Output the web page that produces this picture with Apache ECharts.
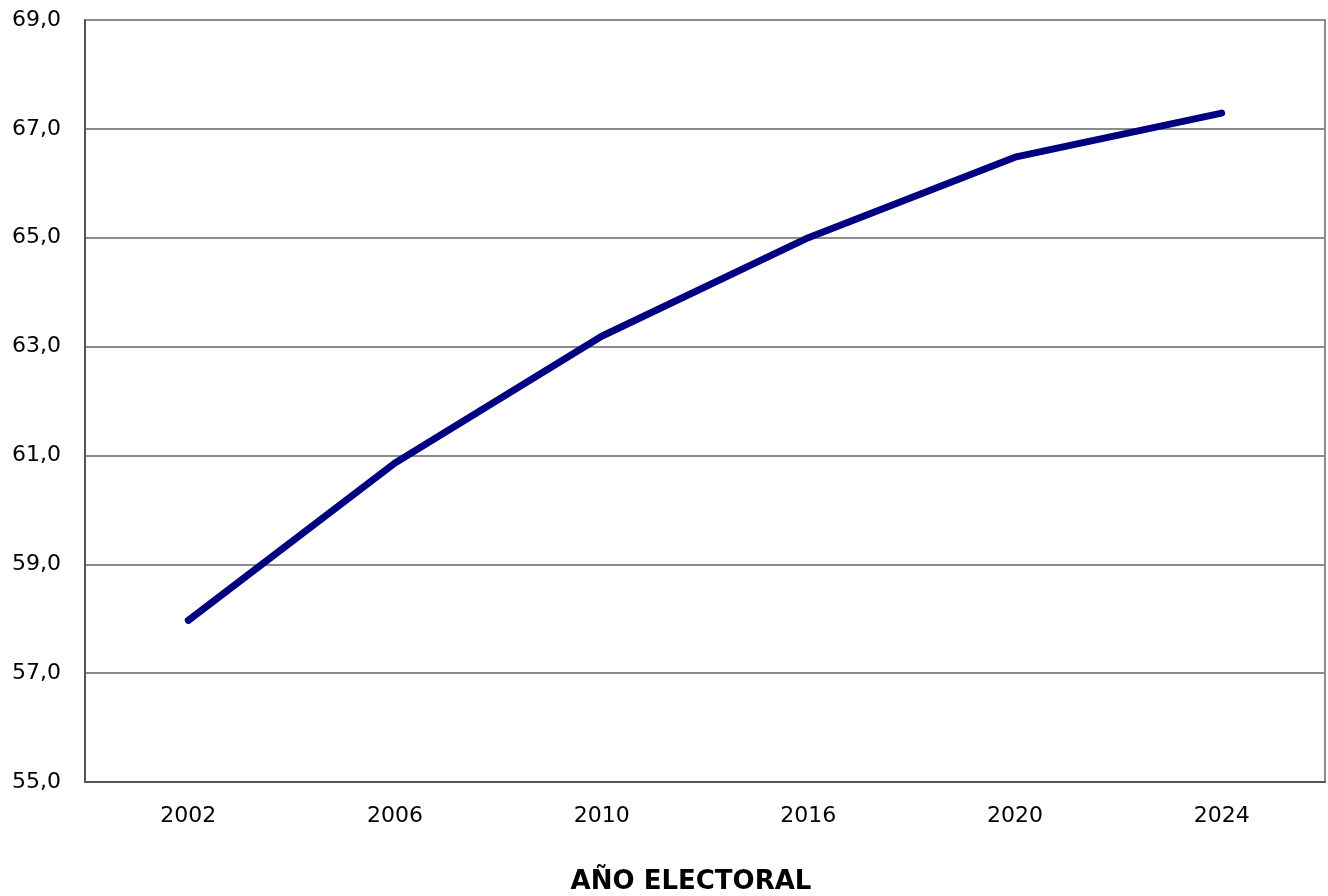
<!DOCTYPE html>
<html><head><meta charset="utf-8">
<script src="https://cdn.jsdelivr.net/npm/echarts@6/dist/echarts.min.js"></script>
<style>html,body{margin:0;padding:0;background:#fff}#c{width:1328px;height:896px}</style>
</head><body><div id="c"></div>
<script>
const years = ['2002','2006','2010','2016','2020','2024'];
const values = [57.97, 60.86, 63.19, 65.0, 66.48, 67.29];
const yMin = 55, yMax = 69, yStep = 2;
const xTitle = 'AÑO ELECTORAL';

const font = 'DejaVu Sans';
const chart = echarts.init(document.getElementById('c'));
chart.setOption({
  animation: false,
  backgroundColor: '#fff',
  grid: { left: 85, right: 3, top: 20, bottom: 114, show: true, borderColor: '#8c8c8c', borderWidth: 2, backgroundColor: 'transparent' },
  title: { text: xTitle, left: 686, top: 864, textAlign: 'center',
    textStyle: { fontFamily: font, fontSize: 26, fontWeight: 'bold', color: '#000' } },
  xAxis: {
    type: 'category', data: years, boundaryGap: true,
    axisLine: { lineStyle: { color: '#555', width: 2 } },
    axisTick: { show: false },
    axisLabel: { fontFamily: font, fontSize: 22, color: '#000', margin: 23 }
  },
  yAxis: {
    type: 'value', min: yMin, max: yMax, interval: yStep,
    axisLine: { show: true, lineStyle: { color: '#555', width: 2 } },
    axisTick: { show: false },
    splitLine: { lineStyle: { color: '#8c8c8c', width: 2 } },
    axisLabel: { fontFamily: font, fontSize: 22, color: '#000', margin: 24,
      formatter: v => v.toFixed(1).replace('.', ',') }
  },
  series: [{
    type: 'line', data: values, symbol: 'none',
    lineStyle: { color: '#000080', width: 7, cap: 'round', join: 'round' }
  }]
});
</script></body></html>
